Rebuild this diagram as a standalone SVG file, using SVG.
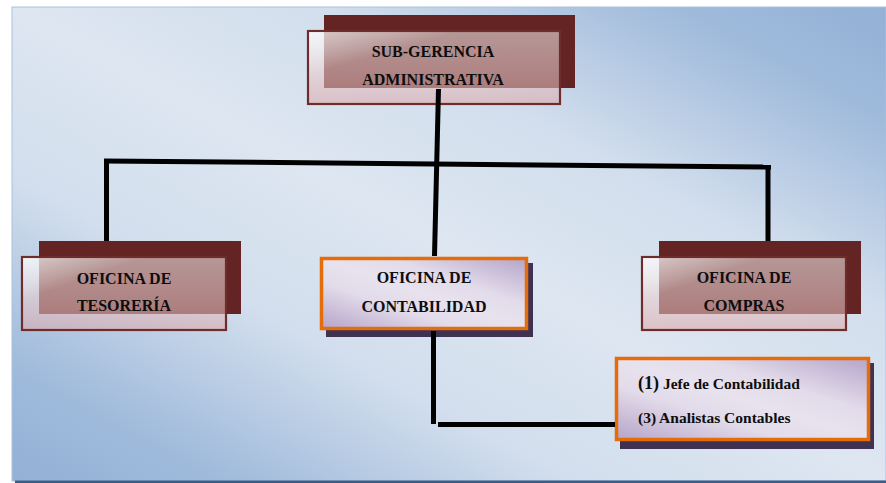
<svg xmlns="http://www.w3.org/2000/svg" width="886" height="483" viewBox="0 0 886 483">
<defs>
<linearGradient id="bg" x1="1" y1="0" x2="0" y2="1">
<stop offset="0" stop-color="#93b1d6"/>
<stop offset="0.12" stop-color="#9fbadb"/>
<stop offset="0.32" stop-color="#d2deed"/>
<stop offset="0.5" stop-color="#dde6f1"/>
<stop offset="0.68" stop-color="#d2deed"/>
<stop offset="0.88" stop-color="#9fbadb"/>
<stop offset="1" stop-color="#93b1d6"/>
</linearGradient>
<linearGradient id="front" x1="0" y1="0" x2="0" y2="1">
<stop offset="0" stop-color="#f8f6f5" stop-opacity="0.55"/>
<stop offset="1" stop-color="#dba9ab" stop-opacity="0.6"/>
</linearGradient>
<linearGradient id="shine" x1="0" y1="0" x2="1" y2="1">
<stop offset="0" stop-color="#ffffff" stop-opacity="0.5"/>
<stop offset="0.3" stop-color="#ffffff" stop-opacity="0"/>
</linearGradient>
<linearGradient id="lav" x1="1" y1="0" x2="0" y2="1">
<stop offset="0" stop-color="#b5a4c9"/>
<stop offset="0.33" stop-color="#e2dbea"/>
<stop offset="0.5" stop-color="#e8e2ee"/>
<stop offset="0.67" stop-color="#e2dbea"/>
<stop offset="1" stop-color="#b5a4c9"/>
</linearGradient>
<style>
.back{fill:#632423}
.front{fill:url(#front);stroke:#6e2c2b;stroke-width:2.2}
.shine{fill:url(#shine)}
.shadow{fill:#3f3151}
.orange{fill:url(#lav);stroke:#e46c0a;stroke-width:3.5}
.lbl{font-family:"Liberation Serif","Times New Roman",serif;font-weight:bold;font-size:16px;fill:#0d0d0d;text-anchor:middle}
.sm{font-family:"Liberation Serif","Times New Roman",serif;font-weight:bold;font-size:15.5px;fill:#0d0d0d}
.ln{stroke:#000;stroke-width:5;fill:none}
</style>
</defs>
<rect x="12" y="7" width="874" height="474" fill="url(#bg)" stroke="#a9c1de" stroke-width="1"/>
<rect x="15" y="480.5" width="871" height="2.5" fill="#3a5c86"/>

<g id="sub-gerencia">
<rect class="back" x="324" y="15" width="251" height="73"/>
<rect class="front" x="308" y="31" width="252" height="73"/>
<rect class="shine" x="309" y="32" width="250" height="71"/>
<text class="lbl" x="433" y="57">SUB-GERENCIA</text>
<text class="lbl" x="433" y="85">ADMINISTRATIVA</text>
</g>

<g id="tesoreria">
<rect class="back" x="39" y="241" width="202" height="73"/>
<rect class="front" x="22" y="257" width="204" height="73"/>
<rect class="shine" x="23" y="258" width="202" height="71"/>
<text class="lbl" x="124" y="284">OFICINA DE</text>
<text class="lbl" x="124" y="311">TESORERÍA</text>
</g>

<g id="compras">
<rect class="back" x="659" y="241" width="202" height="73"/>
<rect class="front" x="642" y="257" width="204" height="73"/>
<rect class="shine" x="643" y="258" width="202" height="71"/>
<text class="lbl" x="744" y="283">OFICINA DE</text>
<text class="lbl" x="744" y="311">COMPRAS</text>
</g>

<g id="contabilidad">
<rect class="shadow" x="326" y="263" width="207" height="74"/>
<rect class="orange" x="321.5" y="258.5" width="205" height="70"/>
<text class="lbl" x="424" y="283">OFICINA DE</text>
<text class="lbl" x="424" y="312">CONTABILIDAD</text>
</g>

<g id="personal">
<rect class="shadow" x="620" y="363" width="254" height="86"/>
<rect class="orange" x="616.5" y="358.5" width="252" height="81"/>
<text class="sm" x="638" y="389"><tspan font-size="18">(1)</tspan> Jefe de Contabilidad</text>
<text class="sm" x="638" y="423">(3) Analistas  Contables</text>
</g>

<g id="connectors">
<line class="ln" x1="104" y1="161" x2="771" y2="167"/>
<line class="ln" x1="106.5" y1="159" x2="106.5" y2="241"/>
<line class="ln" x1="768" y1="165" x2="768" y2="241"/>
<line class="ln" x1="438.5" y1="89" x2="434.5" y2="256"/>
<line class="ln" x1="433.5" y1="331" x2="433.5" y2="424"/>
<line class="ln" x1="438" y1="424.5" x2="615" y2="424.5"/>
</g>
</svg>
